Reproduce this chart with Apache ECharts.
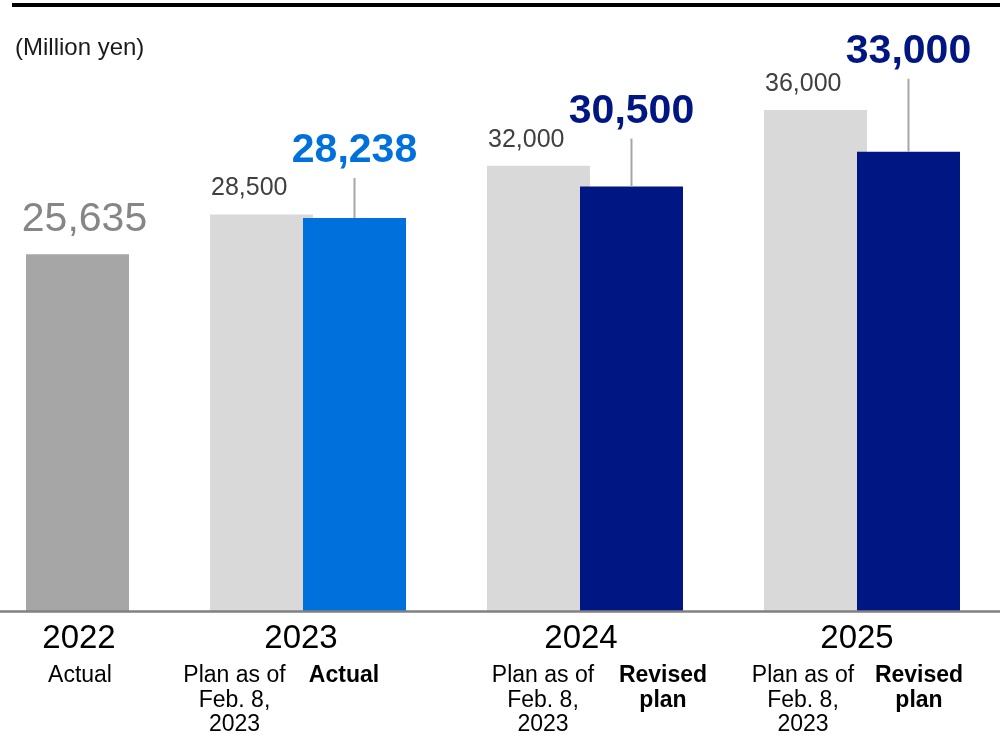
<!DOCTYPE html>
<html>
<head>
<meta charset="utf-8">
<script src="https://cdn.jsdelivr.net/npm/echarts@6/dist/echarts.min.js"></script>
<style>
  html, body { margin: 0; padding: 0; background: #fff; }
  #chart { width: 1000px; height: 742px; }
</style>
</head>
<body>
<div id="chart"></div>
<script>
  // data
  const years = ['2022', '2023', '2024', '2025']
  const planValues = [null, 28500, 32000, 36000]
  const resultValues = [25635, 28238, 30500, 33000]
  const resultNames = ['Actual', 'Actual', 'Revised\nplan', 'Revised\nplan']
  const planName = 'Plan as of\nFeb. 8,\n2023'

  // layout (x axis is laid out in pixel-like units 0..1000)
  const groupX = [77.5, 308, 585, 862]
  const leaderLen = [0, 40, 48, 73]
  const yearShift = [1.5, -7, -4, -5]
  const planTextShift = [0, -73.5, -42, -59]
  const resTextShift = [2.5, 36, 78, 57]
  const barW = 103

  const resultColors = ['#a6a6a6', '#0070dd', '#001683', '#001683']
  const resultLabelColors = ['#868686', '#0070dd', '#001683', '#001683']
  const FONT = 'Arial, "Liberation Sans", sans-serif'

  function txt(x, y, text, size, color, weight, align, vAlign, lineHeight) {
    return {
      type: 'text',
      x: x,
      y: y,
      style: {
        text: text,
        fill: color,
        fontSize: size,
        fontWeight: weight || 'normal',
        fontFamily: FONT,
        textAlign: align || 'center',
        textVerticalAlign: vAlign || 'middle',
        lineHeight: lineHeight
      }
    }
  }

  function renderItem(params, api) {
    const i = api.value(2)
    const base = api.coord([groupX[i], 0])
    const cx = base[0]
    const y0 = base[1]
    const w = api.size([barW, 0])[0]
    const children = []

    // year + sub labels
    children.push(txt(cx + yearShift[i], 638.5, years[i], 33, '#000'))

    if (planValues[i] == null) {
      const top = api.coord([groupX[i], resultValues[i]])[1]
      children.push({ type: 'rect', shape: { x: cx - w / 2, y: top, width: w, height: y0 - top }, style: { fill: resultColors[i] } })
      children.push(txt(cx + 7, top - 35, resultValues[i].toLocaleString('en-US'), 41, resultLabelColors[i]))
      children.push(txt(cx + resTextShift[i], 663.5, resultNames[i], 23, '#000', 'normal', 'center', 'top', 24.5))
      return { type: 'group', children: children }
    }

    const planTop = api.coord([groupX[i], planValues[i]])[1]
    const resTop = api.coord([groupX[i], resultValues[i]])[1]
    const planLeft = cx - 98
    const resLeft = cx - 5
    const resCx = resLeft + w / 2

    children.push({ type: 'rect', shape: { x: planLeft, y: planTop, width: w, height: y0 - planTop }, style: { fill: '#d9d9d9' } })
    children.push({ type: 'rect', shape: { x: resLeft, y: resTop, width: w, height: y0 - resTop }, style: { fill: resultColors[i] } })
    children.push({
      type: 'line',
      shape: { x1: resCx, y1: resTop - leaderLen[i], x2: resCx, y2: resTop },
      style: { stroke: '#a6a6a6', lineWidth: 2 }
    })
    children.push(txt(planLeft + 1, planTop - 26, planValues[i].toLocaleString('en-US'), 25, '#404040', 'normal', 'left'))
    children.push(txt(resCx, resTop - leaderLen[i] - 27, resultValues[i].toLocaleString('en-US'), 41, resultLabelColors[i], 'bold'))
    children.push(txt(cx + planTextShift[i], 663.5, planName, 23, '#000', 'normal', 'center', 'top', 24.5))
    children.push(txt(cx + resTextShift[i], 663.5, resultNames[i], 23, '#000', 'bold', 'center', 'top', 24.5))
    return { type: 'group', children: children }
  }

  const chart = echarts.init(document.getElementById('chart'))
  chart.setOption({
    animation: false,
    grid: { left: 0, right: 0, top: 54.3, bottom: 130.7 },
    xAxis: {
      type: 'value',
      min: 0,
      max: 1000,
      z: 10,
      axisLine: { show: true, onZero: false, lineStyle: { color: '#808080', width: 2.7 } },
      axisTick: { show: false },
      axisLabel: { show: false },
      splitLine: { show: false }
    },
    yAxis: {
      type: 'value',
      min: 0,
      max: 40000,
      show: false,
      splitLine: { show: false }
    },
    graphic: [
      { type: 'rect', left: 12, top: 3, shape: { width: 988, height: 4 }, style: { fill: '#000' } },
      {
        type: 'text', left: 15, top: 36,
        style: { text: '(Million yen)', fill: '#1a1a1a', fontSize: 24, fontFamily: FONT }
      }
    ],
    series: [{
      type: 'custom',
      renderItem: renderItem,
      encode: { x: 0, y: 1 },
      data: years.map((y, i) => [groupX[i], resultValues[i], i])
    }]
  })
</script>
</body>
</html>
